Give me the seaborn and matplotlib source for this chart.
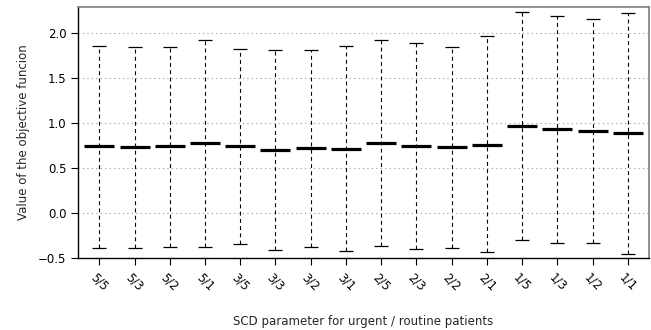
import numpy as np
import pandas as pd
import matplotlib
matplotlib.use("Agg")
import matplotlib.pyplot as plt
import seaborn as sns

# SCD parameter settings (urgent / routine)
settings = ["5/5", "5/3", "5/2", "5/1", "3/5", "3/3", "3/2", "3/1",
            "2/5", "2/3", "2/2", "2/1", "1/5", "1/3", "1/2", "1/1"]
low = [-0.385, -0.385, -0.378, -0.378, -0.348, -0.407, -0.378, -0.426,
       -0.370, -0.396, -0.385, -0.437, -0.304, -0.333, -0.330, -0.456]
median = [0.744, 0.733, 0.740, 0.774, 0.741, 0.700, 0.722, 0.715,
          0.774, 0.748, 0.730, 0.759, 0.967, 0.930, 0.911, 0.885]
high = [1.860, 1.845, 1.848, 1.920, 1.822, 1.807, 1.811, 1.856,
        1.919, 1.893, 1.840, 1.967, 2.237, 2.193, 2.152, 2.222]
yticks = [-0.5, 0.0, 0.5, 1.0, 1.5, 2.0]

long = pd.DataFrame({
    "setting": settings * 3,
    "value": low + median + high,
})
ends = pd.DataFrame({"setting": settings * 2, "value": low + high})

sns.set_style("white")
plt.rcParams["font.family"] = ["DejaVu Sans"]

fig = plt.figure(figsize=(6.51, 3.30), dpi=100)
ax = fig.add_axes([0.12, 0.218, 0.877, 0.761])

for y in yticks:
    ax.axhline(y, color="#999999", lw=0.8, ls=(0, (1, 3)), zorder=0)

sns.pointplot(data=long, x="setting", y="value", order=settings,
              estimator="median", errorbar=("pi", 100), capsize=0,
              marker="_", markersize=22, markeredgewidth=2.3,
              linestyle="none", color="black",
              err_kws={"linestyle": (0, (3.5, 3)), "linewidth": 0.8}, ax=ax)
sns.scatterplot(data=ends, x="setting", y="value", marker="_", s=110,
                linewidth=0.9, color="black", ax=ax, zorder=3)

ax.set_xlim(-0.6, 15.6)
ax.set_ylim(-0.5, 2.29)
ax.set_yticks(yticks)
ax.set_yticklabels([f"{v:.1f}".replace("-", "\u2212") for v in yticks])
ax.set_xticks(range(len(settings)))
ax.set_xticklabels(settings, rotation=-45, ha="center", va="top")
ax.tick_params(axis="both", direction="out", length=5, width=0.8,
               colors="black", labelsize=8.5, bottom=True, left=True)
ax.tick_params(axis="x", pad=4)

for side in ["left", "bottom"]:
    ax.spines[side].set_color("black")
    ax.spines[side].set_linewidth(1.0)
for side in ["top", "right"]:
    ax.spines[side].set_color("#808080")
    ax.spines[side].set_linewidth(1.2)

ax.set_xlabel("SCD parameter for urgent / routine patients", fontsize=8.5, labelpad=16)
ax.set_ylabel("Value of the objective funcion", fontsize=8.5, labelpad=6)

fig.savefig("out.png", dpi=100)
